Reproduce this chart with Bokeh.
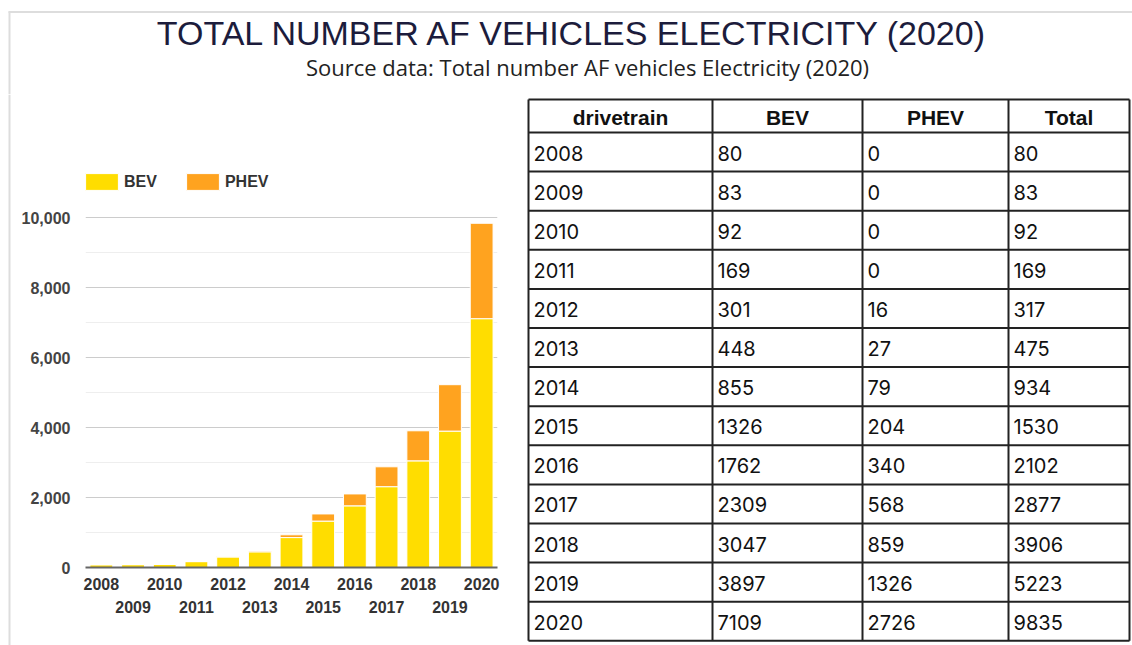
from bokeh.plotting import figure
from bokeh.layouts import column, row
from bokeh.models import (Range1d, FixedTicker, NumeralTickFormatter,
                          LinearAxis, Legend, LegendItem, ColumnDataSource)
from bokeh.core.properties import value
from bokeh.embed import file_html
from bokeh.resources import INLINE

# ---------------- data ----------------
years = [2008, 2009, 2010, 2011, 2012, 2013, 2014, 2015, 2016, 2017, 2018, 2019, 2020]
bev = [80, 83, 92, 169, 301, 448, 855, 1326, 1762, 2309, 3047, 3897, 7109]
phev = [0, 0, 0, 0, 16, 27, 79, 204, 340, 568, 859, 1326, 2726]
total = [80, 83, 92, 169, 317, 475, 934, 1530, 2102, 2877, 3906, 5223, 9835]
headers = ["drivetrain", "BEV", "PHEV", "Total"]
y_ticks = [0, 2000, 4000, 6000, 8000, 10000]
y_minor_ticks = [1000, 3000, 5000, 7000, 9000]
title_text = "TOTAL NUMBER AF  VEHICLES ELECTRICITY (2020)"
subtitle_text = "Source data: Total number AF vehicles Electricity (2020)"

YELLOW = "#FFDD00"
ORANGE = "#FFA31F"
FRAME = "#dddddd"

TOTAL_W = 1132
TITLE_H = 94
BODY_H = 551


def blank_fig(w, h):
    f = figure(width=w, height=h, x_range=Range1d(0, w), y_range=Range1d(h, 0),
               output_backend="svg", toolbar_location=None,
               x_axis_location=None, y_axis_location=None,
               min_border=0, outline_line_color=None, frame_align=False)
    f.grid.visible = False
    return f


# ---------------- title ----------------
tf = blank_fig(TOTAL_W, TITLE_H)
tf.segment(x0=[8, 9], y0=[11.5, 11], x1=[TOTAL_W, 9], y1=[11.5, TITLE_H], line_color=FRAME, line_width=2)
tf.text(x=[577], y=[32], text=[title_text], text_font=value("Liberation Sans"),
        text_font_size="34px", text_color="#1c1c3c", text_align="center", text_baseline="middle")
tf.text(x=[587], y=[66], text=[subtitle_text], text_font=value("Open Sans"),
        text_font_size="22px", text_color="#222222", text_align="center", text_baseline="middle")

# ---------------- left frame strip ----------------
sf = blank_fig(18, BODY_H)
sf.segment(x0=[9], y0=[0], x1=[9], y1=[BODY_H], line_color=FRAME, line_width=2)

# ---------------- chart ----------------
FRAME_H = 407          # frame spans legend area + plot area
PLOT_PX = 350          # pixels for 0..10000
src = ColumnDataSource(dict(year=years, BEV=bev, PHEV=phev))
p = figure(width=502, height=BODY_H, x_range=Range1d(2007.5, 2020.5),
           y_range=Range1d(0, 10000 * FRAME_H / PLOT_PX),
           output_backend="svg", toolbar_location=None, min_border_left=66, min_border_right=23,
           min_border_top=BODY_H - 78 - FRAME_H, min_border_bottom=78, outline_line_color=None,
           x_axis_location=None, y_axis_location="left", frame_align=False)
rs = p.vbar_stack(["BEV", "PHEV"], x="year", width=0.72, color=[YELLOW, ORANGE],
                  line_color="white", line_width=1, source=src)

yt = FixedTicker(ticks=y_ticks, minor_ticks=y_minor_ticks)
p.yaxis.ticker = yt
p.yaxis.formatter = NumeralTickFormatter(format="0,0")
p.yaxis.axis_line_color = None
p.yaxis.major_tick_line_color = None
p.yaxis.minor_tick_line_color = None
p.yaxis.major_tick_out = 0
p.yaxis.major_tick_in = 0
p.yaxis.minor_tick_out = 0
p.yaxis.minor_tick_in = 0
p.yaxis.major_label_standoff = 15
p.yaxis.major_label_text_font = "Liberation Sans"
p.yaxis.major_label_text_font_style = "bold"
p.yaxis.major_label_text_font_size = "16px"
p.yaxis.major_label_text_color = "#444444"
p.ygrid.ticker = yt
p.ygrid.grid_line_color = "#cccccc"
p.ygrid.minor_grid_line_color = "#eeeeee"
p.xgrid.visible = False

for ticks, standoff, show_line in [
        ([y for y in years if y % 2 == 0], 10, True),
        ([y for y in years if y % 2 == 1], 8, False)]:
    ax = LinearAxis(ticker=FixedTicker(ticks=ticks))
    ax.axis_line_color = "#666666" if show_line else None
    ax.axis_line_width = 2
    ax.major_tick_line_color = None
    ax.minor_tick_line_color = None
    ax.major_tick_out = 0
    ax.major_tick_in = 0
    ax.minor_tick_out = 0
    ax.minor_tick_in = 0
    ax.major_label_standoff = standoff
    ax.major_label_text_font = "Liberation Sans"
    ax.major_label_text_font_style = "bold"
    ax.major_label_text_font_size = "16px"
    ax.major_label_text_color = "#333333"
    p.add_layout(ax, "below")

legend = Legend(items=[LegendItem(label="BEV", renderers=[rs[0]]),
                       LegendItem(label="PHEV", renderers=[rs[1]])],
                location=(-4, 567 - 171 - 21), orientation="horizontal", padding=0, margin=0,
                spacing=25, glyph_width=41, glyph_height=21, label_height=21,
                label_standoff=2, border_line_color=None, background_fill_alpha=0,
                label_text_font="Liberation Sans", label_text_font_style="bold",
                label_text_font_size="16px", label_text_color="#333333")
p.add_layout(legend, "center")

# ---------------- table ----------------
TW = TOTAL_W - 18 - 502
tb = blank_fig(TW, BODY_H)
col_x = [8, 192, 342, 488, 609]
top = 5
head_h = 33
row_h = 39.1
n = len(years)
row_lines = [top, top + head_h] + [top + head_h + row_h * (k + 1) for k in range(n)]
bottom = row_lines[-1]
tb.segment(x0=[col_x[0]] * len(row_lines), y0=row_lines, x1=[col_x[-1]] * len(row_lines), y1=row_lines,
           line_color="#222222", line_width=2)
tb.segment(x0=col_x, y0=[top] * len(col_x), x1=col_x, y1=[bottom] * len(col_x),
           line_color="#222222", line_width=2)
tb.text(x=[(col_x[k] + col_x[k + 1]) / 2 for k in range(4)], y=[top + head_h / 2 + 1] * 4, text=headers,
        text_font=value("Liberation Sans"), text_font_style="bold", text_font_size="21px",
        text_color="#111111", text_align="center", text_baseline="middle")
cols = [[str(v) for v in years], [str(v) for v in bev], [str(v) for v in phev], [str(v) for v in total]]
for k in range(4):
    tb.text(x=[col_x[k] + 5] * n, y=[top + head_h + row_h * (j + 0.5) + 1 for j in range(n)], text=cols[k],
            text_font=value("Inter"), text_font_size="20px", text_color="#111111",
            text_align="left", text_baseline="middle")

layout = column(tf, row(sf, p, tb))
open("out.html", "w").write(file_html(layout, INLINE))
